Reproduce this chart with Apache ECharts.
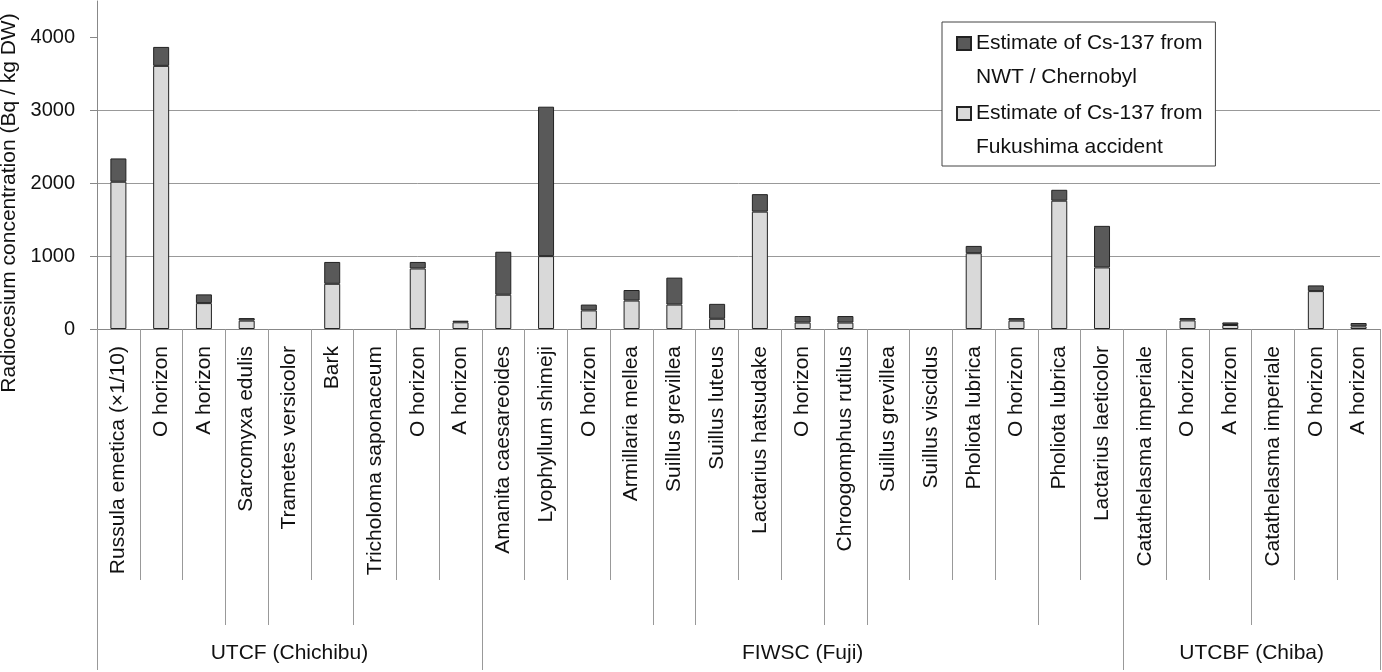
<!DOCTYPE html>
<html>
<head>
<meta charset="utf-8">
<title>Radiocesium concentration</title>
<script src="https://cdn.jsdelivr.net/npm/echarts@6/dist/echarts.min.js"></script>
<style>
  html, body { margin: 0; padding: 0; background: #fff; }
  #chart { width: 1382px; height: 672px; }
</style>
</head>
<body>
<div id="chart"></div>
<script>
// bottom level of the category axis
var categories = [
  'Russula emetica (×1/10)', 'O horizon', 'A horizon', 'Sarcomyxa edulis', 'Trametes versicolor',
  'Bark', 'Tricholoma saponaceum', 'O horizon', 'A horizon',
  'Amanita caesareoides', 'Lyophyllum shimeji', 'O horizon', 'Armillaria mellea', 'Suillus grevillea',
  'Suillus luteus', 'Lactarius hatsudake', 'O horizon', 'Chroogomphus rutilus', 'Suillus grevillea',
  'Suillus viscidus', 'Pholiota lubrica', 'O horizon', 'Pholiota lubrica', 'Lactarius laeticolor',
  'Catathelasma imperiale', 'O horizon', 'A horizon', 'Catathelasma imperiale', 'O horizon', 'A horizon'
];
// Cs-137 from Fukushima accident (light, bottom of stack)
var fukushima = [2020, 3610, 355, 115, null, 620, null, 830, 92,
  470, 1000, 255, 390, 335, 140, 1610, 88, 88, null, null, 1040, 115, 1760, 845,
  null, 118, 55, null, 520, 36];
// Cs-137 from NWT / Chernobyl (dark, top of stack)
var nwt = [320, 260, 120, 35, null, 300, null, 90, 22,
  590, 2050, 80, 145, 370, 205, 240, 90, 90, null, null, 100, 35, 150, 570,
  null, 33, 35, null, 78, 46];
var groupNames = ['UTCF (Chichibu)', 'FIWSC (Fuji)', 'UTCBF (Chiba)'];
var groupSizes = [9, 15, 6];
var subgroupSizes = [3, 1, 2, 3, 4, 1, 3, 1, 4, 2, 3, 3];
var yTicks = [0, 1000, 2000, 3000, 4000];

var lightName = 'Estimate of Cs-137 from\nFukushima accident';
var darkName = 'Estimate of Cs-137 from\nNWT / Chernobyl';
var font = 'Liberation Sans, Arial, sans-serif';

// boundary positions of the two upper levels
function breaks(sizes) {
  var out = [0], s = 0;
  sizes.forEach(function (n) { s += n; out.push(s); });
  return out;
}
var subBreaks = breaks(subgroupSizes);
var groupBreaks = breaks(groupSizes);

var boundaryPoints = [];
for (var i = 0; i <= categories.length; i++) boundaryPoints.push(String(i));
var halfPoints = [];
for (var j = 0; j <= categories.length * 2; j++) halfPoints.push(String(j));

// group label sits at the middle of its span (in half-category units)
var groupCenter = {};
groupNames.forEach(function (name, g) {
  groupCenter[groupBreaks[g] * 2 + groupSizes[g]] = name;
});

// square icon aligned with the first text line
var legendIcon = 'path://M0,0M0,11L14,11L14,24L0,24ZM0,68';

var option = {
  animation: false,
  backgroundColor: '#fff',
  textStyle: { fontFamily: font },
  grid: {
    left: 97,
    right: 2,
    top: 1,
    bottom: 343,
    outerBoundsMode: 'none',
    containLabel: false
  },
  legend: {
    orient: 'vertical',
    left: 942,
    top: 22,
    padding: [3, 13, 1, 14],
    itemGap: 0,
    itemWidth: 14,
    itemHeight: 68,
    icon: legendIcon,
    backgroundColor: '#fff',
    borderColor: '#444',
    borderWidth: 1,
    borderRadius: 0,
    selectedMode: false,
    textStyle: { fontSize: 21, lineHeight: 34, color: '#111', fontFamily: font },
    data: [darkName, lightName]
  },
  xAxis: [{
    type: 'category',
    position: 'bottom',
    data: categories,
    axisLine: { lineStyle: { color: '#888' } },
    axisTick: { show: true, interval: 0, length: 251, lineStyle: { color: '#999' } },
    axisLabel: { interval: 0, rotate: 90, margin: 17, fontSize: 21, color: '#111', fontFamily: font },
    splitLine: { show: false }
  }, {
    // middle level: dividers only
    type: 'category',
    position: 'bottom',
    boundaryGap: false,
    data: boundaryPoints,
    axisLine: { show: false },
    axisTick: {
      show: true,
      length: 296,
      interval: function (idx) { return subBreaks.indexOf(idx) >= 0; },
      lineStyle: { color: '#999' }
    },
    axisLabel: { show: false },
    splitLine: { show: false }
  }, {
    // top level: sites
    type: 'category',
    position: 'bottom',
    boundaryGap: false,
    data: halfPoints,
    axisLine: { show: false },
    axisTick: {
      show: true,
      length: 341,
      interval: function (idx) { return groupBreaks.indexOf(idx / 2) >= 0; },
      lineStyle: { color: '#999' }
    },
    axisLabel: {
      interval: function (idx) { return groupCenter[idx] !== undefined; },
      formatter: function (v, idx) { return groupCenter[idx] || ''; },
      margin: 314,
      fontSize: 21,
      color: '#111',
      fontFamily: font
    },
    splitLine: { show: false }
  }],
  yAxis: {
    type: 'value',
    min: 0,
    max: 4500,
    interval: 1000,
    name: 'Radiocesium concentration (Bq / kg DW)',
    nameLocation: 'middle',
    nameRotate: 90,
    nameGap: 66,
    nameTextStyle: { fontSize: 21, color: '#111', fontFamily: font, padding: [0, 76, 0, 0] },
    axisLine: { show: true, lineStyle: { color: '#888' } },
    axisTick: { show: true, length: 7, customValues: yTicks, lineStyle: { color: '#888' } },
    axisLabel: {
      fontSize: 20,
      color: '#111',
      margin: 22,
      customValues: yTicks,
      fontFamily: font,
      formatter: function (v) { return String(v); }
    },
    splitLine: { show: true, showMaxLine: false, lineStyle: { color: '#999' } }
  },
  series: [{
    name: lightName,
    type: 'bar',
    stack: 'cs',
    xAxisIndex: 0,
    barWidth: 16,
    itemStyle: { color: '#d9d9d9', borderColor: '#222', borderWidth: 1 },
    data: fukushima
  }, {
    name: darkName,
    type: 'bar',
    stack: 'cs',
    xAxisIndex: 0,
    barWidth: 16,
    itemStyle: { color: '#595959', borderColor: '#222', borderWidth: 1 },
    data: nwt
  }]
};

var chart = echarts.init(document.getElementById('chart'));
chart.setOption(option);
</script>
</body>
</html>
